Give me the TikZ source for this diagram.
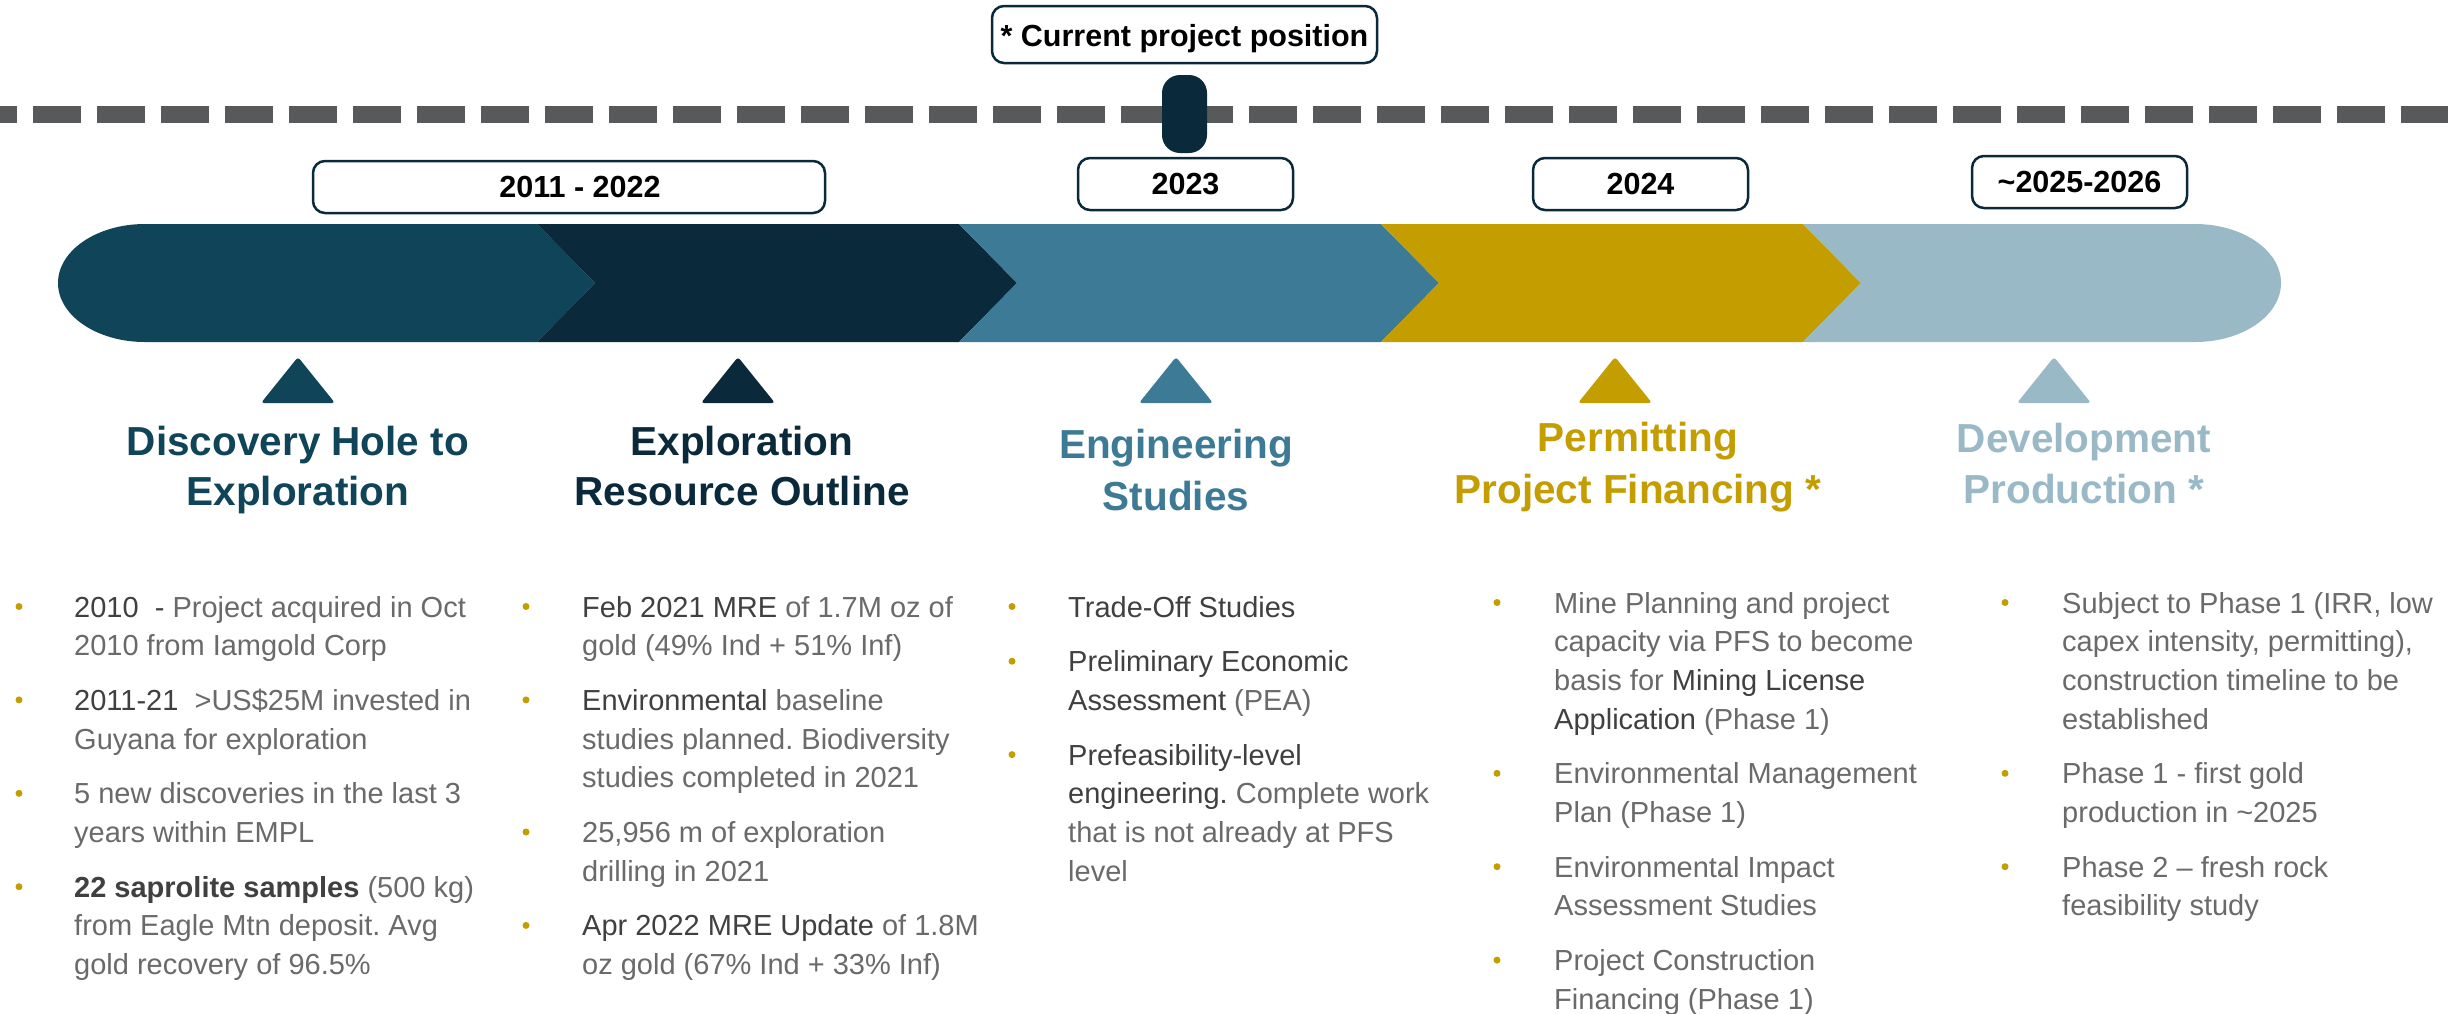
\documentclass[tikz,border=0pt]{standalone}
\usepackage{fontspec}
\setmainfont{Liberation Sans}
\frenchspacing
\definecolor{cA}{HTML}{0F4459}
\definecolor{cB}{HTML}{0A2A3B}
\definecolor{cC}{HTML}{3D7A96}
\definecolor{cD}{HTML}{C49D00}
\definecolor{cE}{HTML}{9AB9C7}
\definecolor{dashgrey}{HTML}{58595B}
\definecolor{txtlight}{HTML}{6A6A6A}
\definecolor{txtdark}{HTML}{404040}
\newcommand\bodyfont{\fontsize{29}{39}\selectfont}
\newcommand\titlefont{\fontsize{40.5}{51}\selectfont\bfseries}
\newcommand\datefont{\fontsize{30.5}{36}\selectfont\bfseries}
\newcommand\dk[1]{{\color{txtdark}#1}}
\newcommand\bd[1]{{\color{txtdark}\bfseries #1}}
\newcommand\bodyline[4]{\node[body] (#1) at (#2,#3) {#4};}
\newcommand\bulletdot[3]{\node[dot] (#1) at (#2,#3) {};}
\newcommand\lowered[2]{{\vphantom{#2}\smash{\raisebox{-#1}{#2}}}}
\begin{document}
\frenchspacing
\begin{tikzpicture}[x=1pt,y=-1pt,
  datebox/.style={draw=cB, line width=2.5pt, fill=white, rounded corners=12pt, inner sep=0pt, font=\datefont, text=black},
  ttl/.style={anchor=base, inner sep=0pt, font=\titlefont},
  body/.style={anchor=base west, inner sep=0pt, font=\bodyfont, text=txtlight},
  dot/.style={circle, fill=cD, inner sep=0pt, minimum size=7pt},
  dashline/.style={draw=dashgrey, line width=16.5pt, dash pattern=on 48pt off 16pt},
  tri/.style={rounded corners=3pt}
]
\useasboundingbox (0,0) rectangle (2448,1013);
\clip (0,0) rectangle (2448,1013);
\fill[white] (0,0) rectangle (2448,1013);

% dashed time line and current marker
\draw[dashline] (-31,114.5) -- (2500,114.5);
\fill[cB, rounded corners=18pt] (1162,75) rectangle (1207,153);

% date boxes
\node[datebox, minimum width=385pt, minimum height=57pt] (cur) at (1184.5,34.5) {\lowered{4pt}{* Current project position}};
\node[datebox, minimum width=512pt, minimum height=52pt] (d1) at (569,187) {\hspace*{22pt}2011 - 2022};
\node[datebox, minimum width=215pt, minimum height=52pt] (d2) at (1185.5,184) {2023};
\node[datebox, minimum width=215pt, minimum height=52pt] (d3) at (1640.5,184) {2024};
\node[datebox, minimum width=215pt, minimum height=52pt] (d4) at (2079.5,182) {\textasciitilde 2025-2026};

% arrow band
\fill[cA] (537,224) -- (595,283) -- (537,342) -- (145,342)
  arc[start angle=90, end angle=270, x radius=87, y radius=59] -- cycle;
\fill[cB] (537,224) -- (959,224) -- (1017,283) -- (959,342) -- (537,342) -- (595,283) -- cycle;
\fill[cC] (959,224) -- (1381,224) -- (1439,283) -- (1381,342) -- (959,342) -- (1017,283) -- cycle;
\fill[cD] (1381,224) -- (1803,224) -- (1861,283) -- (1803,342) -- (1381,342) -- (1439,283) -- cycle;
\fill[cE] (1803,224) -- (2195,224)
  arc[start angle=-90, end angle=90, x radius=86, y radius=59] -- (1803,342) -- (1861,283) -- cycle;

% triangles
\fill[cA, tri] (298,357) -- (335,403) -- (261,403) -- cycle;
\fill[cB, tri] (738,357) -- (775,403) -- (701,403) -- cycle;
\fill[cC, tri] (1176,357) -- (1213,403) -- (1139,403) -- cycle;
\fill[cD, tri] (1615,357) -- (1652,403) -- (1578,403) -- cycle;
\fill[cE, tri] (2054,357) -- (2091,403) -- (2017,403) -- cycle;

% titles
\node[ttl, text=cA] (t1a) at (298,455) {Discovery Hole to};
\node[ttl, text=cA] (t1b) at (298,505) {Exploration};
\node[ttl, text=cB] (t2a) at (742,455) {Exploration};
\node[ttl, text=cB] (t2b) at (742,505) {Resource Outline};
\node[ttl, text=cC] (t3a) at (1176,458) {Engineering};
\node[ttl, text=cC] (t3b) at (1176,510) {Studies};
\node[ttl, text=cD] (t4a) at (1638,451) {Permitting};
\node[ttl, text=cD] (t4b) at (1638,503) {Project Financing *};
\node[ttl, text=cE] (t5a) at (2084,452) {Development};
\node[ttl, text=cE] (t5b) at (2084,503) {Production *};

% column 1
\bulletdot{b11}{19}{606.5}
\bodyline{l11a}{74}{617}{\dk{2010\ \ -} Project acquired in Oct}
\bodyline{l11b}{74}{655.7}{2010 from Iamgold Corp}
\bulletdot{b12}{19}{699.9}
\bodyline{l12a}{74}{710.4}{\dk{2011-21}\ \ >US\$25M invested in}
\bodyline{l12b}{74}{749.1}{Guyana for exploration}
\bulletdot{b13}{19}{793.3}
\bodyline{l13a}{74}{803.8}{5 new discoveries in the last 3}
\bodyline{l13b}{74}{842.5}{years within EMPL}
\bulletdot{b14}{19}{886.7}
\bodyline{l14a}{74}{897.2}{\bd{22 saprolite samples} (500 kg)}
\bodyline{l14b}{74}{935.9}{from Eagle Mtn deposit. Avg}
\bodyline{l14c}{74}{974.6}{gold recovery of 96.5\%}

% column 2
\bulletdot{b21}{526}{606.5}
\bodyline{l21a}{582}{617}{\dk{Feb 2021 MRE} of 1.7M oz of}
\bodyline{l21b}{582}{655.7}{gold (49\% Ind + 51\% Inf)}
\bulletdot{b22}{526}{699.9}
\bodyline{l22a}{582}{710.4}{\dk{Environmental} baseline}
\bodyline{l22b}{582}{749.1}{studies planned. Biodiversity}
\bodyline{l22c}{582}{787.8}{studies completed in 2021}
\bulletdot{b23}{526}{832}
\bodyline{l23a}{582}{842.5}{25,956 m of exploration}
\bodyline{l23b}{582}{881.2}{drilling in 2021}
\bulletdot{b24}{526}{925.4}
\bodyline{l24a}{582}{935.9}{\dk{Apr 2022 MRE Update} of 1.8M}
\bodyline{l24b}{582}{974.6}{oz gold (67\% Ind + 33\% Inf)}

% column 3
\bulletdot{b31}{1012}{606.5}
\bodyline{l31a}{1068}{617}{\dk{Trade-Off Studies}}
\bulletdot{b32}{1012}{661.2}
\bodyline{l32a}{1068}{671.7}{\dk{Preliminary Economic}}
\bodyline{l32b}{1068}{710.4}{\dk{Assessment} (PEA)}
\bulletdot{b33}{1012}{754.6}
\bodyline{l33a}{1068}{765.1}{\dk{Prefeasibility-level}}
\bodyline{l33b}{1068}{803.8}{\dk{engineering.} Complete work}
\bodyline{l33c}{1068}{842.5}{that is not already at PFS}
\bodyline{l33d}{1068}{881.2}{level}

% column 4
\bulletdot{b41}{1497}{602.5}
\bodyline{l41a}{1554}{613}{Mine Planning and project}
\bodyline{l41b}{1554}{651.7}{capacity via PFS to become}
\bodyline{l41c}{1554}{690.4}{basis for \dk{Mining License}}
\bodyline{l41d}{1554}{729.1}{\dk{Application} (Phase 1)}
\bulletdot{b42}{1497}{773.3}
\bodyline{l42a}{1554}{783.8}{Environmental Management}
\bodyline{l42b}{1554}{822.5}{Plan (Phase 1)}
\bulletdot{b43}{1497}{866.7}
\bodyline{l43a}{1554}{877.2}{Environmental Impact}
\bodyline{l43b}{1554}{915.9}{Assessment Studies}
\bulletdot{b44}{1497}{960.1}
\bodyline{l44a}{1554}{970.6}{Project Construction}
\bodyline{l44b}{1554}{1009.3}{Financing (Phase 1)}

% column 5
\bulletdot{b51}{2005}{602.5}
\bodyline{l51a}{2062}{613}{Subject to Phase 1 (IRR, low}
\bodyline{l51b}{2062}{651.7}{capex intensity, permitting),}
\bodyline{l51c}{2062}{690.4}{construction timeline to be}
\bodyline{l51d}{2062}{729.1}{established}
\bulletdot{b52}{2005}{773.3}
\bodyline{l52a}{2062}{783.8}{Phase 1 - first gold}
\bodyline{l52b}{2062}{822.5}{production in \textasciitilde 2025}
\bulletdot{b53}{2005}{866.7}
\bodyline{l53a}{2062}{877.2}{Phase 2 -- fresh rock}
\bodyline{l53b}{2062}{915.9}{feasibility study}
\end{tikzpicture}
\end{document}
